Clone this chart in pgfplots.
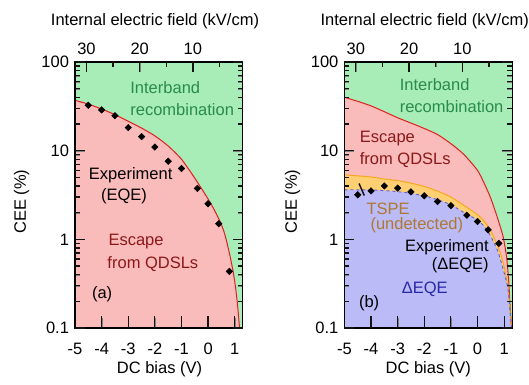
\documentclass[border=0pt]{standalone}
\usepackage{fontspec}
\setmainfont{Liberation Sans}
\usepackage{pgfplots}
\pgfplotsset{compat=1.18}
\usepackage{pgfplotstable}

\definecolor{gfill}{RGB}{168,236,184}
\definecolor{pfill}{RGB}{250,187,187}
\definecolor{bfill}{RGB}{187,187,247}
\definecolor{ofill}{RGB}{255,208,115}
\definecolor{redline}{RGB}{228,30,30}
\definecolor{orangeline}{RGB}{245,168,30}
\definecolor{blueline}{RGB}{95,95,215}
\definecolor{gtext}{RGB}{40,140,75}
\definecolor{rtext}{RGB}{140,25,25}
\definecolor{otext}{RGB}{175,120,50}
\definecolor{btext}{RGB}{40,40,170}
\definecolor{tickc}{RGB}{20,20,20}

% (a) experiment EQE
\pgfplotstableread{
V cee
-4.5 32.5
-4.0 28.8
-3.5 24.8
-3.0 18.2
-2.5 14.4
-2.0 11.0
-1.5 7.6
-1.0 6.3
-0.4 3.76
0.0 2.52
0.4 1.50
0.8 0.435
}\expA

% (a) escape from QDSLs boundary
\pgfplotstableread{
V cee
-5.0 37
-4.5 33.5
-4.0 29.5
-3.5 25.5
-3.0 21.5
-2.5 18
-2.0 14.7
-1.5 11.3
-1.0 8.0
-0.5 4.9
0.0 2.85
0.25 2.1
0.5 1.47
0.65 1.08
0.8 0.70
0.94 0.435
1.03 0.29
1.10 0.19
1.15 0.13
1.18 0.1
1.20 0.08
}\redA

% (b) experiment Delta EQE
\pgfplotstableread{
V cee
-4.5 3.18
-4.0 3.52
-3.5 4.0
-3.0 3.78
-2.5 3.43
-2.0 3.1
-1.5 2.67
-1.0 2.4
-0.4 1.87
0.0 1.59
0.4 1.28
0.8 0.9
}\expB

% (b) escape boundary
\pgfplotstableread{
V cee
-5.0 40
-4.5 36
-4.0 32
-3.5 27.5
-3.0 23.5
-2.5 20.5
-2.0 17.8
-1.5 15.2
-1.0 12.0
-0.5 9.0
0.0 6.0
0.25 4.3
0.5 2.9
0.75 1.75
0.96 1.08
1.09 0.64
1.17 0.35
1.21 0.21
1.26 0.12
1.30 0.085
}\redB

% (b) TSPE boundary
\pgfplotstableread{
V cee
-5.0 5.34
-4.5 5.2
-4.0 5.05
-3.5 4.8
-3.0 4.6
-2.5 4.3
-2.0 3.95
-1.5 3.5
-1.0 3.0
-0.5 2.4
0.0 1.9
0.25 1.6
0.5 1.25
0.75 0.85
0.9 0.64
1.05 0.42
1.15 0.28
1.22 0.16
1.28 0.1
1.30 0.085
}\orB

% (b) Delta EQE boundary
\pgfplotstableread{
V cee
-5.0 3.62
-4.5 3.62
-4.0 3.6
-3.5 3.55
-3.0 3.45
-2.5 3.3
-2.0 3.1
-1.5 2.8
-1.0 2.45
-0.5 2.0
0.0 1.65
0.25 1.4
0.5 1.08
0.75 0.75
0.9 0.54
1.05 0.37
1.15 0.27
1.22 0.16
1.28 0.1
1.30 0.085
}\blB

\begin{document}
\fontsize{16.5}{19}\selectfont
\begin{tikzpicture}
\useasboundingbox (0pt,0pt) rectangle (529pt,384pt);

% ---------- panel (a) ----------
\begin{axis}[at={(75pt,56pt)}, anchor=south west,
    scale only axis, width=167.7pt, height=266pt,
    font=\fontsize{16.5}{19}\selectfont,
    line width=1.1pt,
    xmin=-5, xmax=1.3, ymode=log, ymin=0.1, ymax=100,
    xtick={-5,-4,-3,-2,-1,0,1},
    xticklabels={-5,-4,-3,-2,-1,0,1},
    xtick pos=bottom,
    ytick={0.1,1,10,100}, yticklabels={0.1,1,10,100},
    major tick length=10pt, minor tick length=5pt,
    axis background/.style={fill=gfill},
    axis on top,
    /pgf/number format/assume math mode=true,
    xticklabel style={yshift=-9pt}]
  \addplot[fill=pfill, draw=none, smooth, tension=0.4] table[x=V,y=cee]{\redA}
     -- (axis cs:1.3,0.05) -- (axis cs:-5,0.05) -- cycle;
  \addplot[redline, line width=1pt, smooth, tension=0.4] table[x=V,y=cee]{\redA};
  \addplot[only marks, mark=square*, mark size=2.3pt, black,
     mark options={rotate=45, line width=0.5pt}] table[x=V,y=cee]{\expA};
  \node[anchor=west, inner sep=0pt, text=gtext] at (axis cs:-2.94,52) {Interband};
  \node[anchor=west, inner sep=0pt, text=gtext] at (axis cs:-2.94,29.3) {recombination};
  \node[inner sep=0pt] at (axis cs:-2.91,5.34) {Experiment};
  \node[inner sep=0pt] at (axis cs:-3.16,3.04) {(EQE)};
  \node[anchor=west, inner sep=0pt, text=rtext] at (axis cs:-3.76,0.946) {Escape};
  \node[anchor=west, inner sep=0pt, text=rtext] at (axis cs:-3.80,0.53) {from QDSLs};
  \node[inner sep=0pt] at (axis cs:-3.98,0.238) {(a)};
\end{axis}
\begin{axis}[at={(75pt,56pt)}, anchor=south west,
    scale only axis, width=167.7pt, height=266pt,
    font=\fontsize{16.5}{19}\selectfont,
    line width=1.1pt,
    x dir=reverse, xmin=0.65, xmax=32.15, ymin=0, ymax=1,
    xtick={10,20,30}, minor xtick={5,15,25},
    xtick pos=top, xticklabel pos=top,
    ytick=\empty,
    major tick length=10pt, minor tick length=5pt,
    /pgf/number format/assume math mode=true,
    xticklabel style={yshift=1pt}]
\end{axis}

% ---------- panel (b) ----------
\begin{axis}[at={(344.4pt,56pt)}, anchor=south west,
    scale only axis, width=167.7pt, height=266pt,
    font=\fontsize{16.5}{19}\selectfont,
    line width=1.1pt,
    xmin=-5, xmax=1.3, ymode=log, ymin=0.1, ymax=100,
    xtick={-5,-4,-3,-2,-1,0,1},
    xticklabels={-5,-4,-3,-2,-1,0,1},
    xtick pos=bottom,
    ytick={0.1,1,10,100}, yticklabels={0.1,1,10,100},
    major tick length=10pt, minor tick length=5pt,
    axis background/.style={fill=gfill},
    axis on top,
    /pgf/number format/assume math mode=true,
    xticklabel style={yshift=-9pt}]
  \addplot[fill=pfill, draw=none, smooth, tension=0.4] table[x=V,y=cee]{\redB}
     -- (axis cs:1.3,0.05) -- (axis cs:-5,0.05) -- cycle;
  \addplot[fill=ofill, draw=none, smooth, tension=0.4] table[x=V,y=cee]{\orB}
     -- (axis cs:1.3,0.05) -- (axis cs:-5,0.05) -- cycle;
  \addplot[fill=bfill, draw=none, smooth, tension=0.4] table[x=V,y=cee]{\blB}
     -- (axis cs:1.3,0.05) -- (axis cs:-5,0.05) -- cycle;
  \addplot[redline, line width=1pt, smooth, tension=0.4] table[x=V,y=cee]{\redB};
  \addplot[orangeline, line width=1pt, smooth, tension=0.4] table[x=V,y=cee]{\orB};
  \addplot[blueline, line width=0.9pt, dashed, smooth, tension=0.4] table[x=V,y=cee]{\blB};
  \addplot[only marks, mark=square*, mark size=2.3pt, black,
     mark options={rotate=45, line width=0.5pt}] table[x=V,y=cee]{\expB};
  \node[anchor=west, inner sep=0pt, text=gtext] at (axis cs:-2.94,55) {Interband};
  \node[anchor=west, inner sep=0pt, text=gtext] at (axis cs:-2.94,31.4) {recombination};
  \node[anchor=west, inner sep=0pt, text=rtext] at (axis cs:-4.44,13.8) {Escape};
  \node[anchor=west, inner sep=0pt, text=rtext] at (axis cs:-4.44,7.9) {from QDSLs};
  \node[anchor=west, inner sep=0pt, text=otext] at (axis cs:-4.19,2.2) {TSPE};
  \node[anchor=west, inner sep=0pt, text=otext] at (axis cs:-4.04,1.43) {(undetected)};
  \node[anchor=east, inner sep=0pt] at (axis cs:0.44,0.82) {Experiment};
  \node[anchor=east, inner sep=0pt] at (axis cs:0.44,0.505) {(ΔEQE)};
  \node[inner sep=0pt, text=btext] at (axis cs:-1.98,0.27) {ΔEQE};
  \node[inner sep=0pt] at (axis cs:-4.07,0.19) {(b)};
\end{axis}
\begin{axis}[at={(344.4pt,56pt)}, anchor=south west,
    scale only axis, width=167.7pt, height=266pt,
    font=\fontsize{16.5}{19}\selectfont,
    line width=1.1pt,
    x dir=reverse, xmin=0.65, xmax=32.15, ymin=0, ymax=1,
    xtick={10,20,30}, minor xtick={5,15,25},
    xtick pos=top, xticklabel pos=top,
    ytick=\empty,
    major tick length=10pt, minor tick length=5pt,
    /pgf/number format/assume math mode=true,
    xticklabel style={yshift=1pt}]
\end{axis}

% ---------- inward frame ticks of both panels (thin filled bars) ----------
\foreach \xo in {75,344.4}{
  \foreach \e in {0,1,2,3}{
    \pgfmathsetmacro{\yy}{56+266*\e/3-0.6}
    \pgfmathsetmacro{\xr}{\xo+167.7-10}
    \fill[tickc] (\xo pt,\yy pt) rectangle ++(10pt,1.2pt);
    \fill[tickc] (\xr pt,\yy pt) rectangle ++(10pt,1.2pt);
  }
  \foreach \e in {0,1,2}{
    \foreach \m in {2,3,4,5,6,7,8,9}{
      \pgfmathsetmacro{\yy}{56+266*(\e+log10(\m))/3-0.6}
      \pgfmathsetmacro{\xr}{\xo+167.7-5}
      \fill[tickc] (\xo pt,\yy pt) rectangle ++(5pt,1.2pt);
      \fill[tickc] (\xr pt,\yy pt) rectangle ++(5pt,1.2pt);
    }
  }
  \foreach \v in {-4,-3,-2,-1,0,1}{
    \pgfmathsetmacro{\xx}{\xo+167.7*(\v+5)/6.3-0.6}
    \fill[tickc] (\xx pt,56pt) rectangle ++(1.2pt,12pt);
  }
  \foreach \v in {-4.57,-2.57,-0.57}{
    \pgfmathsetmacro{\xx}{\xo+167.7*(\v+5)/6.3-0.6}
    \fill[tickc] (\xx pt,312pt) rectangle ++(1.2pt,10pt);
  }
  \foreach \v in {-3.57,-1.57,0.43}{
    \pgfmathsetmacro{\xx}{\xo+167.7*(\v+5)/6.3-0.6}
    \fill[tickc] (\xx pt,317pt) rectangle ++(1.2pt,5pt);
  }
}
% pointer from the TSPE label to its band, panel (b)
\fill[tickc] (358.4pt,200pt) -- (359.6pt,201pt) -- (364.9pt,189pt) -- (363.7pt,188pt) -- cycle;

% ---------- outer labels ----------
\node[rotate=90] at (21.7pt,182.3pt) {CEE (\%)};
\node[rotate=90] at (292.5pt,182.3pt) {CEE (\%)};
\node at (159.5pt,14.5pt) {DC bias (V)};
\node at (428.3pt,14.5pt) {DC bias (V)};
\node at (155pt,362.8pt) {Internal electric field (kV/cm)};
\node at (424.7pt,362.8pt) {Internal electric field (kV/cm)};
\end{tikzpicture}
\end{document}
